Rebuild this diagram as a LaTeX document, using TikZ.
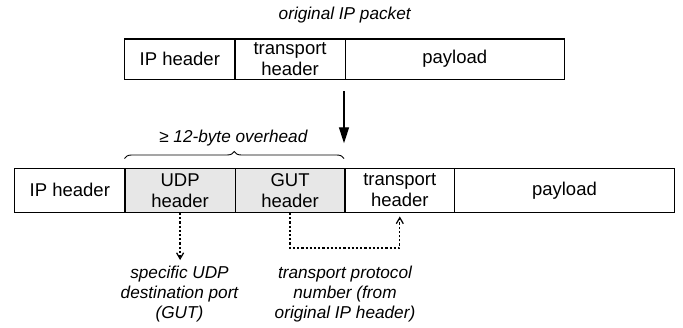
\documentclass[tikz,border=0pt]{standalone}
\usepackage{fontspec}
\setmainfont{Liberation Sans}
\usetikzlibrary{arrows.meta,decorations.pathreplacing,calc}
\definecolor{hdrgray}{gray}{0.905}
\begin{document}
\begin{tikzpicture}[x=1pt,y=-1pt,
  box/.style={draw,line width=1.3pt,inner sep=0pt,align=center,font=\fontsize{18.5}{21}\selectfont},
  tophdr/.style={box,minimum height=40.3pt},
  bothdr/.style={box,minimum height=44pt},
  shade/.style={fill=hdrgray},
  lbl/.style={font=\fontsize{17.2}{20}\selectfont\itshape,align=center,inner sep=0pt},
  dotline/.style={line width=1.25pt,dash pattern=on 2.2pt off 2pt,-{Straight Barb[length=6pt,width=7pt]}}]
\useasboundingbox (0,0) rectangle (683,327);
% original packet
\node[tophdr,minimum width=110.3pt] (tip) at (179.85,59.2) {IP header};
\node[tophdr,minimum width=110.2pt] (ttr) at (290.1,59.2) {transport\\header};
\node[tophdr,minimum width=219.1pt] (tpl) at (454.75,59.2) {payload};
\node[lbl,anchor=base] (orig) at (344.7,19.3) {original IP packet};
% arrow
\coordinate (a1) at (344,91);
\coordinate (a2) at (344,143.3);
\draw[line width=1.3pt,-{Triangle[length=16pt,width=10pt]}] (a1) -- (a2);
% encapsulated packet
\node[bothdr,minimum width=110.3pt] (bip) at (69.85,190.3) {IP header};
\node[bothdr,shade,minimum width=110.2pt] (udp) at (180.1,190.3) {UDP\\header};
\node[bothdr,shade,minimum width=109.8pt] (gut) at (290.1,190.3) {GUT\\header};
\node[bothdr,minimum width=109.6pt] (btr) at (399.8,190.3) {transport\\header};
\node[bothdr,minimum width=219.7pt] (bpl) at (564.45,190.3) {payload};
% brace
\coordinate (b1) at (124.5,158.5);
\coordinate (b2) at (344,158.5);
\draw[line width=0.9pt,decorate,decoration={brace,amplitude=7pt}] (b1) -- (b2);
\node[lbl,anchor=base] (ovh) at (233.3,142.7) {≥ 12-byte overhead};
% dotted connectors
\coordinate (d1) at (180.1,260);
\draw[dotline] (udp.south) -- (d1);
\draw[dotline,shorten >=3.5pt] (gut.south) -- ++(0,35) -| (btr.south);
% labels
\node[lbl,anchor=north] (l1) at (179.5,266) {specific UDP\\destination port\\(GUT)};
\node[lbl,anchor=north] (l2) at (345,266) {transport protocol\\number (from\\original IP header)};
\end{tikzpicture}
\end{document}
